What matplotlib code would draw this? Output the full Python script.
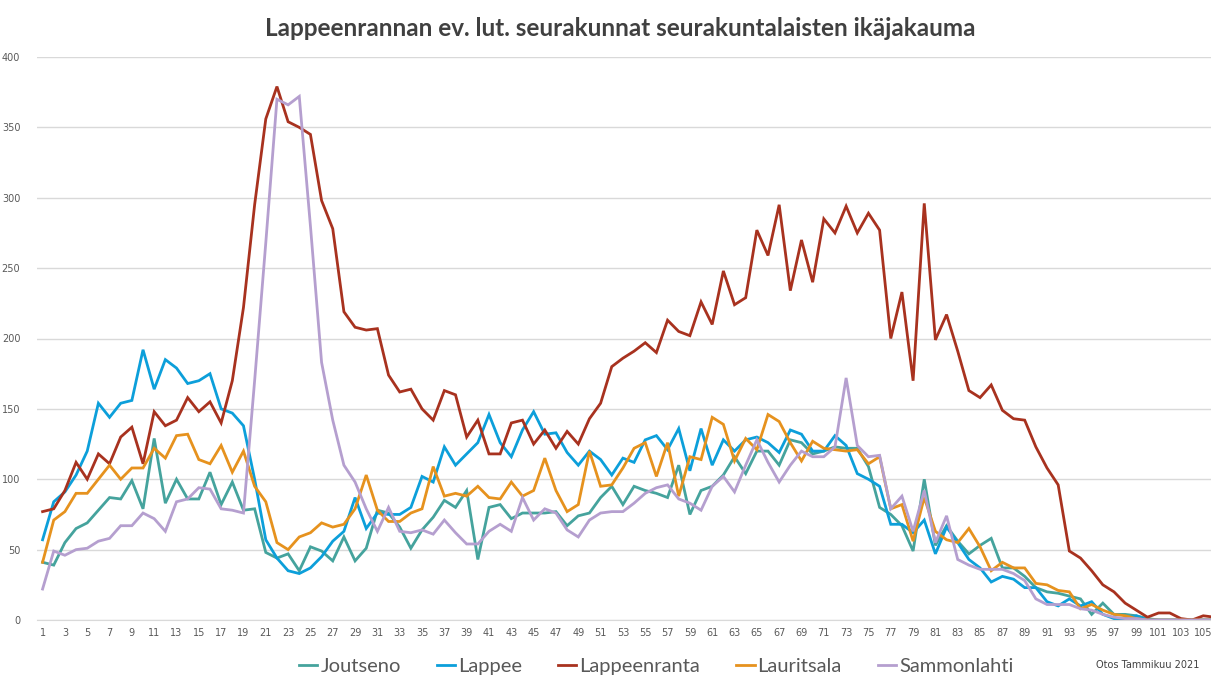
import matplotlib
matplotlib.use('Agg')
import matplotlib.pyplot as plt
import numpy as np

ages = list(range(1, 107))

joutseno = [41, 39, 55, 65, 69, 78, 87, 86, 99, 79, 129, 83, 100, 86, 86, 105, 82, 98, 78, 79,
            48, 44, 47, 35, 52, 49, 42, 59, 42, 51, 78, 76, 66, 51, 64, 73, 85, 80, 92, 43,
            80, 82, 72, 76, 76, 76, 77, 67, 74, 76, 87, 95, 82, 95, 92, 90, 87, 110, 75, 92,
            95, 103, 116, 104, 120, 120, 110, 128, 126, 118, 120, 123, 122, 122, 109, 80, 75, 67, 49, 100,
            53, 67, 56, 47, 53, 58, 37, 37, 31, 23, 20, 19, 17, 15, 4, 12, 4, 4, 3, 1,
            0, 0, 0, 0, 0, 0]
lappee = [57, 84, 91, 103, 120, 154, 144, 154, 156, 192, 164, 185, 179, 168, 170, 175, 150, 147, 138, 100,
          57, 44, 35, 33, 37, 45, 56, 63, 87, 65, 76, 75, 75, 80, 102, 98, 123, 110, 118, 126,
          146, 126, 116, 135, 148, 132, 133, 119, 110, 120, 114, 103, 115, 112, 128, 131, 121, 136, 106, 136,
          110, 128, 120, 128, 130, 126, 119, 135, 132, 120, 120, 131, 124, 104, 100, 95, 68, 68, 62, 71,
          47, 66, 55, 43, 37, 27, 31, 29, 23, 23, 13, 10, 15, 10, 13, 4, 1, 1, 3, 0,
          0, 0, 0, 0, 0, 0]
lappeenranta = [77, 79, 92, 112, 100, 118, 111, 130, 137, 111, 148, 138, 142, 158, 148, 155, 140, 170, 222, 295,
                356, 379, 354, 350, 345, 298, 278, 219, 208, 206, 207, 174, 162, 164, 150, 142, 163, 160, 130, 142,
                118, 118, 140, 142, 125, 135, 122, 134, 125, 143, 154, 180, 186, 191, 197, 190, 213, 205, 202, 226,
                210, 248, 224, 229, 277, 259, 295, 234, 270, 240, 285, 275, 294, 275, 289, 277, 200, 233, 170, 296,
                199, 217, 191, 163, 158, 167, 149, 143, 142, 123, 108, 96, 49, 44, 35, 25, 20, 12, 7, 2,
                5, 5, 1, 0, 3, 2]
lauritsala = [41, 71, 77, 90, 90, 100, 110, 100, 108, 108, 122, 115, 131, 132, 114, 111, 124, 105, 120, 95,
              84, 55, 50, 59, 62, 69, 66, 68, 79, 103, 78, 70, 70, 76, 79, 109, 88, 90, 88, 95,
              87, 86, 98, 88, 92, 115, 92, 77, 82, 120, 95, 96, 108, 122, 126, 102, 126, 88, 116, 114,
              144, 139, 113, 129, 121, 146, 141, 126, 113, 127, 122, 121, 120, 121, 111, 116, 79, 82, 56, 87,
              63, 57, 55, 65, 52, 35, 41, 37, 37, 26, 25, 21, 20, 8, 11, 7, 4, 3, 1, 0,
              0, 0, 0, 0, 0, 0]
sammonlahti = [22, 49, 46, 50, 51, 56, 58, 67, 67, 76, 72, 63, 84, 86, 94, 93, 79, 78, 76, 170,
               268, 370, 366, 372, 280, 183, 142, 110, 98, 79, 63, 80, 63, 62, 64, 61, 71, 62, 54, 54,
               63, 68, 63, 87, 71, 79, 76, 64, 59, 71, 76, 77, 77, 83, 90, 94, 96, 86, 83, 78,
               95, 102, 91, 110, 128, 112, 98, 110, 120, 116, 116, 123, 172, 124, 116, 117, 79, 88, 63, 92,
               55, 74, 43, 39, 36, 36, 36, 33, 28, 15, 11, 11, 11, 8, 7, 4, 2, 1, 1, 0,
               0, 0, 0, 0, 0, 0]

series = [
    ("Joutseno", joutseno, "#45A39D"),
    ("Lappee", lappee, "#0C9FDA"),
    ("Lappeenranta", lappeenranta, "#A8321F"),
    ("Lauritsala", lauritsala, "#E6921E"),
    ("Sammonlahti", sammonlahti, "#B59FCF"),
]

txt = "#595959"

fig = plt.figure(figsize=(12.11, 6.79), dpi=100)
ax = fig.add_axes([37 / 1211, 59 / 679, 1183 / 1211, 563 / 679])

for name, vals, col in series:
    ax.plot(ages, vals, color=col, lw=2.0, label=name, solid_joinstyle='miter')

ax.set_xlim(0.5, 106.5)
ax.set_ylim(0, 400)
ax.set_yticks(range(0, 401, 50))
ax.set_xticks(ages[::2])
ax.set_xticklabels([str(a) for a in ages[::2]])
ax.grid(axis='y', color='#D9D9D9', lw=1)
ax.set_axisbelow(True)
for s in ['top', 'right', 'left']:
    ax.spines[s].set_visible(False)
ax.spines['bottom'].set_color('#D9D9D9')
ax.tick_params(axis='both', length=0, labelsize=7, colors=txt)
ax.tick_params(axis='x', pad=6)
ax.tick_params(axis='y', pad=12)

fig.text(0.512, 0.958, "Lappeenrannan ev. lut. seurakunnat seurakuntalaisten ikäjakauma",
         ha='center', va='center', fontsize=17.5, fontweight='bold', color='#404040', family='Lato')

fig.legend(loc='center', bbox_to_anchor=(0.542, 0.018), ncol=5, frameon=False,
           handlelength=0.9, handletextpad=0.15, columnspacing=1.8,
           prop={'family': 'Lato', 'size': 14.5}, labelcolor=txt)

fig.text(0.99, 0.02, "Otos Tammikuu 2021", ha='right', va='center', fontsize=7, color='#404040')

fig.savefig('out.png', dpi=100)
